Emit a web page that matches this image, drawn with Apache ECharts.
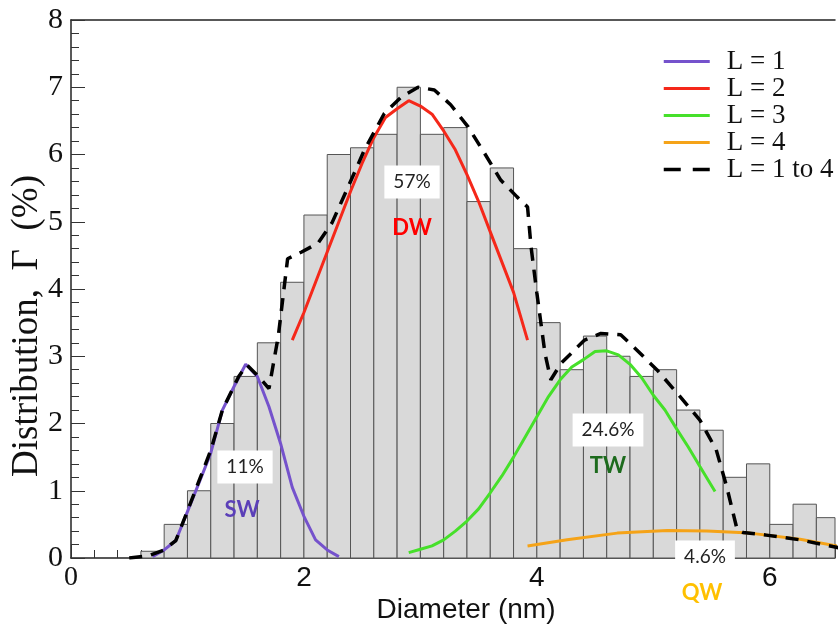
<!DOCTYPE html>
<html>
<head>
<meta charset="utf-8">
<script src="https://cdn.jsdelivr.net/npm/echarts@6/dist/echarts.min.js"></script>
<style>
    html, body { margin: 0; padding: 0; background: #fff; }
    #chart1 { width: 838px; height: 627px; }
</style>
</head>
<body>
<div id="chart1"></div>
<script>
// 直方图 (bin 左边界 / 高度)
var binWidth = 0.2;
var binLeft = [0.6, 0.8, 1.0, 1.2, 1.4, 1.6, 1.8, 2.0, 2.2, 2.4, 2.6, 2.8, 3.0, 3.2, 3.4,
    3.6, 3.8, 4.0, 4.2, 4.4, 4.6, 4.8, 5.0, 5.2, 5.4, 5.6, 5.8, 6.0, 6.2, 6.4];
var binHeight = [0.1, 0.5, 1.0, 2.0, 2.7, 3.2, 4.1, 5.1, 6.0, 6.1, 6.3, 7.0, 6.3, 6.4, 5.3,
    5.8, 4.6, 3.5, 2.8, 3.3, 3.0, 2.7, 2.8, 2.2, 1.9, 1.2, 1.4, 0.5, 0.8, 0.6];

// 拟合曲线
var L1 = [[0.7, 0.02], [0.8, 0.12], [0.9, 0.26], [1.0, 0.69], [1.1, 1.12], [1.2, 1.56], [1.3, 2.2],
    [1.4, 2.55], [1.5, 2.88], [1.6, 2.7], [1.7, 2.25], [1.8, 1.7], [1.9, 1.05], [2.0, 0.62],
    [2.1, 0.27], [2.2, 0.12], [2.3, 0.02]];
var L2 = [[1.9, 3.24], [2.0, 3.65], [2.1, 4.1], [2.2, 4.55], [2.3, 5.0], [2.4, 5.45], [2.5, 5.87],
    [2.6, 6.25], [2.7, 6.55], [2.8, 6.68], [2.9, 6.8], [3.0, 6.72], [3.1, 6.6], [3.2, 6.35],
    [3.3, 6.07], [3.4, 5.7], [3.5, 5.3], [3.6, 4.85], [3.7, 4.4], [3.8, 3.95], [3.92, 3.24]];
var L3 = [[2.9, 0.08], [3.0, 0.13], [3.1, 0.18], [3.2, 0.27], [3.3, 0.4], [3.4, 0.55], [3.5, 0.73],
    [3.6, 0.97], [3.7, 1.22], [3.8, 1.5], [3.9, 1.8], [4.0, 2.1], [4.1, 2.4], [4.2, 2.65],
    [4.3, 2.84], [4.4, 2.95], [4.5, 3.07], [4.6, 3.08], [4.7, 3.02], [4.8, 2.88], [4.9, 2.68],
    [5.0, 2.42], [5.1, 2.2], [5.2, 1.92], [5.3, 1.65], [5.4, 1.36], [5.53, 0.99]];
var L4 = [[3.92, 0.18], [4.26, 0.27], [4.69, 0.37], [5.12, 0.41], [5.46, 0.40], [5.83, 0.37],
    [6.26, 0.28], [6.6, 0.17]];
var Lsum = [[0.5, 0.0], [0.66, 0.03], [0.8, 0.12], [0.9, 0.26], [1.0, 0.7], [1.1, 1.15], [1.2, 1.6],
    [1.3, 2.2], [1.44, 2.7], [1.51, 2.87], [1.61, 2.7], [1.70, 2.52], [1.78, 3.3], [1.86, 4.45],
    [1.98, 4.55], [2.12, 4.68], [2.24, 4.98], [2.38, 5.52], [2.52, 6.07], [2.69, 6.61], [2.84, 6.86],
    [2.98, 7.0], [3.12, 6.96], [3.26, 6.74], [3.41, 6.41], [3.55, 6.02], [3.69, 5.62], [3.83, 5.37],
    [3.92, 5.22], [3.95, 4.63], [4.0, 3.94], [4.07, 3.04], [4.12, 2.65], [4.21, 2.9], [4.41, 3.24],
    [4.55, 3.34], [4.72, 3.32], [4.86, 3.09], [5.03, 2.8], [5.23, 2.4], [5.40, 2.05], [5.54, 1.61],
    [5.63, 1.06], [5.72, 0.42], [5.77, 0.38], [5.97, 0.34], [6.26, 0.27], [6.54, 0.17], [6.6, 0.15]];

var legendNames = ['L = 1', 'L = 2', 'L = 3', 'L = 4', 'L = 1 to 4'];
var xTicks = [0, 2, 4, 6];
var yTicks = [0, 1, 2, 3, 4, 5, 6, 7, 8];

var chart1 = echarts.init(document.getElementById("chart1"));

var histData = [];
for (var i = 0; i < binLeft.length; i++) {
    histData.push([binLeft[i], binLeft[i] + binWidth, binHeight[i]]);
}

function lineSeries(name, data, color, dashed) {
    return {
        name: name,
        type: 'line',
        data: data,
        symbol: 'none',
        smooth: false,
        z: dashed ? 4 : 3,
        lineStyle: {
            color: color,
            width: dashed ? 3.5 : 3,
            type: dashed ? [13, 9] : 'solid'
        },
        itemStyle: { color: color }
    };
}

var serif = 'Liberation Serif';
var sans = 'Liberation Sans';
var calib = 'Lato';

function note(text, x, y, color, size, bold, bg) {
    return {
        type: 'text',
        x: x,
        y: y,
        z: 100,
        style: {
            text: text,
            fill: color,
            font: (bold ? 'bold ' : '') + size + 'px ' + calib,
            align: 'center',
            verticalAlign: 'middle',
            backgroundColor: bg ? '#fff' : null,
            padding: bg ? [7, 9, 7, 9] : 0
        }
    };
}

// 图例数据 (虚线单独设置)
var legendData = legendNames.map(function (n) {
    if (n === 'L = 1 to 4') {
        return { name: n, lineStyle: { type: [17, 12], width: 3.5 } };
    }
    return { name: n, lineStyle: { width: 3 } };
});

chart1.setOption({
    animation: false,
    grid: {
        left: 71,
        right: 0,
        top: 20,
        bottom: 69
    },
    legend: {
        data: legendData,
        orient: 'vertical',
        left: 662,
        top: 48,
        padding: 0,
        itemWidth: 46,
        itemHeight: 14,
        itemGap: 0,
        itemStyle: { opacity: 0 },
        textStyle: {
            fontFamily: serif,
            fontSize: 27,
            lineHeight: 26,
            color: '#111',
            padding: [0, 0, 0, 12]
        }
    },
    xAxis: [
        {
            type: 'value',
            min: 0,
            max: 6.56,
            interval: 2,
            axisLine: { lineStyle: { color: '#222', width: 1.5 } },
            axisTick: { inside: true, length: 14, lineStyle: { color: '#333' } },
            minorTick: { show: true, splitNumber: 10, length: 8, lineStyle: { color: '#333' } },
            splitLine: { show: false },
            axisLabel: {
                margin: 6,
                formatter: function (v) {
                    if (xTicks.indexOf(v) < 0) return '';
                    return v === 0 ? '{s|' + v + '}' : '{a|' + v + '}';
                },
                rich: {
                    s: { fontFamily: serif, fontSize: 28, color: '#111' },
                    a: { fontFamily: sans, fontSize: 28, color: '#111' }
                }
            }
        },
        {
            type: 'value',
            position: 'top',
            min: 0,
            max: 6.56,
            axisLine: { show: true, onZero: false, lineStyle: { color: '#222', width: 1.5 } },
            axisTick: { show: false },
            axisLabel: { show: false },
            splitLine: { show: false }
        }
    ],
    yAxis: {
        type: 'value',
        min: 0,
        max: 8,
        interval: 1,
        axisLine: { show: true, lineStyle: { color: '#222', width: 1.5 } },
        axisTick: { inside: true, length: 14, lineStyle: { color: '#333' } },
        minorTick: { show: true, splitNumber: 5, length: 8, lineStyle: { color: '#333' } },
        splitLine: { show: false },
        axisLabel: {
            margin: 8,
            fontFamily: serif,
            fontSize: 30,
            color: '#111',
            formatter: function (v) {
                return yTicks.indexOf(v) < 0 ? '' : String(v);
            }
        }
    },
    graphic: [
        {
            type: 'text',
            x: 27,
            y: 326,
            rotation: Math.PI / 2,
            z: 100,
            style: {
                text: 'Distribution,  \u0393  (%)',
                fill: '#111',
                font: '37px ' + serif,
                align: 'center',
                verticalAlign: 'middle'
            }
        },
        {
            type: 'text',
            x: 466,
            y: 610,
            z: 100,
            style: {
                text: 'Diameter (nm)',
                fill: '#111',
                font: '28px ' + sans,
                align: 'center',
                verticalAlign: 'middle'
            }
        },
        note('57%', 412, 182, '#222', 19, false, true),
        note('DW', 412, 228, '#ff0000', 22, true, false),
        note('11%', 245, 467, '#222', 19, false, true),
        note('SW', 242, 510, '#5b3fb8', 22, true, false),
        note('24.6%', 608, 430, '#222', 19, false, true),
        note('TW', 608, 466, '#1d6b1d', 22, true, false),
        note('4.6%', 705, 557, '#222', 19, false, true),
        note('QW', 702, 593, '#ffc000', 22, true, false)
    ],
    series: [
        {
            type: 'custom',
            z: 1,
            data: histData,
            renderItem: function (params, api) {
                var p0 = api.coord([api.value(0), api.value(2)]);
                var p1 = api.coord([api.value(1), 0]);
                var rect = echarts.graphic.clipRectByRect({
                    x: p0[0],
                    y: p0[1],
                    width: p1[0] - p0[0],
                    height: p1[1] - p0[1]
                }, {
                    x: params.coordSys.x,
                    y: params.coordSys.y,
                    width: params.coordSys.width,
                    height: params.coordSys.height
                });
                if (!rect) return;
                return {
                    type: 'rect',
                    shape: rect,
                    style: { fill: '#d9d9d9', stroke: '#555', lineWidth: 1 }
                };
            }
        },
        lineSeries('L = 1', L1, '#7552cc', false),
        lineSeries('L = 2', L2, '#f5281a', false),
        lineSeries('L = 3', L3, '#46e02a', false),
        lineSeries('L = 4', L4, '#f5a318', false),
        lineSeries('L = 1 to 4', Lsum, '#000', true)
    ]
});
</script>
</body>
</html>
